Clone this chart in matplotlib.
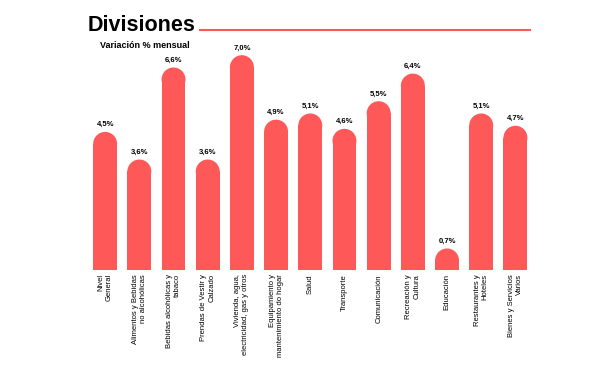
import matplotlib.pyplot as plt
from matplotlib.patches import Ellipse

plt.rcParams['font.family'] = ['Liberation Sans', 'DejaVu Sans']

# -----------------------
# Datos
# -----------------------
categorias = [
    "Nivel\nGeneral",
    "Alimentos y Bebidas\nno alcohólicas",
    "Bebidas alcohólicas y\ntabaco",
    "Prendas de Vestir y\nCalzado",
    "Vivienda, agua,\nelectricidad, gas y otros",
    "Equipamiento y\nmantenimiento do hogar",
    "Salud",
    "Transporte",
    "Comunicación",
    "Recreación y\nCultura",
    "Educación",
    "Restaurantes y\nHoteles",
    "Bienes y Servicios\nVarios",
]
valores = [4.5, 3.6, 6.6, 3.6, 7.0, 4.9, 5.1, 4.6, 5.5, 6.4, 0.7, 5.1, 4.7]
etiquetas = ["4,5%", "3,6%", "6,6%", "3,6%", "7,0%", "4,9%", "5,1%",
             "4,6%", "5,5%", "6,4%", "0,7%", "5,1%", "4,7%"]

color = "#FF5858"
ancho = 0.7

fig = plt.figure(figsize=(5.99, 3.76), dpi=100)
ax = fig.add_axes([0.147, 0.282, 0.742, 0.612])
ax.set_xlim(-0.5, len(valores) - 0.5)
ax.set_ylim(0, 7.5)

# radio vertical en unidades de datos para que la punta sea semicircular
bbox = ax.get_window_extent()
px_x = bbox.width / len(valores)
px_y = bbox.height / 7.5
ry = (ancho / 2) * px_x / px_y

for i, v in enumerate(valores):
    ax.bar(i, v - ry, width=ancho, color=color, linewidth=0)
    ax.add_patch(Ellipse((i, v - ry), ancho, 2 * ry, color=color, linewidth=0))
    ax.text(i, v + 0.12, etiquetas[i], ha="center", va="bottom",
            fontsize=5.5, fontweight="bold")

ax.set_xticks(range(len(valores)))
ax.set_xticklabels(categorias, rotation=90, fontsize=5.5, ha="center", va="top",
                   multialignment="right")
ax.tick_params(axis="x", length=0, pad=3)
ax.set_yticks([])
for s in ax.spines.values():
    s.set_visible(False)

# -----------------------
# Título
# -----------------------
fig.text(88 / 599, 1 - 31 / 376, "Divisiones", fontsize=15.5, fontweight="bold",
         ha="left", va="baseline")
fig.add_artist(plt.Line2D([200 / 599, 530 / 599], [1 - 30 / 376, 1 - 30 / 376],
                          color=color, linewidth=1.5))
fig.text(100 / 599, 1 - 48 / 376, "Variación % mensual", fontsize=6.5,
         fontweight="bold", ha="left", va="baseline")

plt.savefig("out.png", dpi=100)
